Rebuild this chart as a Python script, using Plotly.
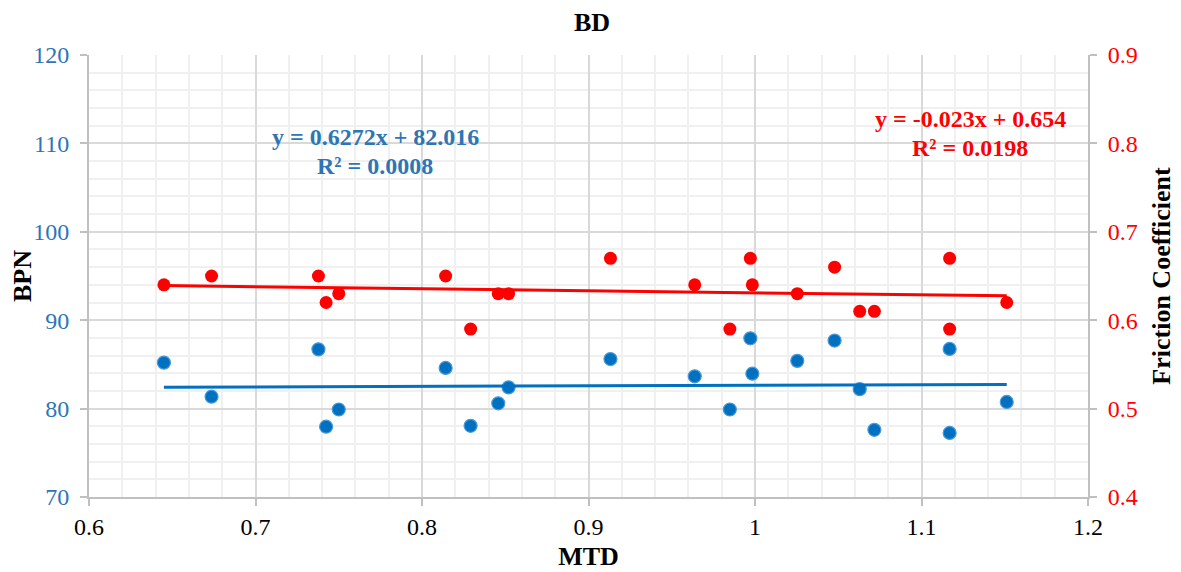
import plotly.graph_objects as go

mtd = [0.645, 0.6736, 0.7378, 0.7424, 0.75, 0.8142, 0.8292, 0.8458, 0.852,
       0.9132, 0.9638, 0.9849, 0.9972, 0.9984, 1.0254, 1.0478, 1.0629, 1.0717,
       1.1169, 1.1169, 1.1512]
bpn = [85.2, 81.35, 86.7, 77.95, 79.9, 84.6, 78.05, 80.6, 82.4,
       85.6, 83.65, 79.9, 87.95, 83.95, 85.4, 87.7, 82.2, 77.6,
       86.75, 77.25, 80.75]
mtd_fc = [0.645, 0.6736, 0.7378, 0.7424, 0.75, 0.8142, 0.8292, 0.8458, 0.852,
          0.9132, 0.9638, 0.9849, 0.9972, 0.9984, 1.0254, 1.0478, 1.0629, 1.0717,
          1.1169, 1.1169, 1.1512]
fc = [0.64, 0.65, 0.65, 0.62, 0.63, 0.65, 0.59, 0.63, 0.63,
      0.67, 0.64, 0.59, 0.67, 0.64, 0.63, 0.66, 0.61, 0.61,
      0.67, 0.59, 0.62]

bpn_fit = (0.6272, 82.016)
fc_fit = (-0.023, 0.654)

BLUE = "#0070C0"
BLUE_TXT = "#2E75B6"
RED = "#FF0000"
FONT = "Liberation Serif"

# page body has an 8px margin; compensate so the plot area lands at
# x 89..1088, y 55..497 in the 1181x572 window
OFF = 8
L, R, T, B = 89, 1088, 55, 497
W, H = 1181 - OFF, 572 - OFF

xs = [min(mtd), max(mtd)]
fig = go.Figure()
fig.add_trace(go.Scatter(x=mtd, y=bpn, mode="markers", name="BPN",
                         marker=dict(size=13, color=BLUE, line=dict(color="#4a98d6", width=1.2))))
fig.add_trace(go.Scatter(x=xs, y=[bpn_fit[0] * v + bpn_fit[1] for v in xs], mode="lines",
                         line=dict(color=BLUE, width=3), name="BPN fit"))
xs2 = [min(mtd_fc), max(mtd_fc)]
fig.add_trace(go.Scatter(x=mtd_fc, y=fc, mode="markers", name="FC", yaxis="y2",
                         marker=dict(size=13, color=RED, line=dict(width=0))))
fig.add_trace(go.Scatter(x=xs2, y=[fc_fit[0] * v + fc_fit[1] for v in xs2], mode="lines",
                         yaxis="y2", line=dict(color=RED, width=3), name="FC fit"))

grid_major = "#D9D9D9"
grid_minor = "#F0F0F0"
axis_col = "#C0C0C0"
TICK = 24
TT = 26

fig.update_layout(
    width=W, height=H,
    margin=dict(l=L - OFF, r=W + OFF - R, t=T - OFF, b=H + OFF - B, autoexpand=False),
    paper_bgcolor="white", plot_bgcolor="white",
    showlegend=False,
    font=dict(family=FONT, size=TICK, color="black"),
    xaxis=dict(range=[0.6, 1.2], dtick=0.1, tick0=0.6,
               showgrid=True, gridcolor=grid_major, gridwidth=2,
               minor=dict(dtick=0.02, showgrid=True, gridcolor=grid_minor, gridwidth=2, ticks=""),
               showline=True, linecolor=axis_col, linewidth=2,
               ticks="outside", ticklen=7, tickcolor=axis_col, tickwidth=2,
               zeroline=False, tickfont=dict(color="black", size=TICK),
               title=dict(text="<b>MTD</b>", font=dict(size=TT), standoff=8)),
    yaxis=dict(range=[70, 120], dtick=10, showgrid=True, gridcolor=grid_major, gridwidth=2,
               minor=dict(dtick=2, showgrid=True, gridcolor=grid_minor, gridwidth=2, ticks=""),
               showline=True, linecolor=axis_col, linewidth=2,
               ticks="outside", ticklen=7, tickcolor=axis_col, tickwidth=2,
               zeroline=False, tickfont=dict(color=BLUE_TXT, size=TICK),
               ticklabelstandoff=6,
               title=dict(text="<b>BPN</b>", font=dict(size=TT), standoff=6)),
    yaxis2=dict(range=[0.4, 0.9], dtick=0.1, overlaying="y", side="right",
                showgrid=False, showline=True, linecolor=axis_col, linewidth=2,
                ticks="outside", ticklen=7, tickcolor=axis_col, tickwidth=2,
                zeroline=False, tickfont=dict(color=RED, size=TICK),
                ticklabelstandoff=6,
                title=dict(text="<b>Friction Coefficient</b>", font=dict(size=TT), standoff=15)),
    title=dict(text="<b>BD</b>", x=(592 - OFF) / W, xanchor="center",
               y=1 - (22 - OFF) / H, yanchor="middle",
               font=dict(size=TT, family=FONT)),
)

def ann(text, px, py, color):
    fig.add_annotation(text="<b>" + text + "</b>", xref="paper", yref="paper",
                       x=(px - L) / (R - L), y=(B - py) / (B - T),
                       xanchor="center", yanchor="middle", showarrow=False,
                       font=dict(size=24, color=color, family=FONT))

ann("y = 0.6272x + 82.016", 375, 137, BLUE_TXT)
ann("R² = 0.0008", 375, 166, BLUE_TXT)
ann("y = -0.023x + 0.654", 970, 119, RED)
ann("R² = 0.0198", 970, 148, RED)

fig.write_html("out.html")
